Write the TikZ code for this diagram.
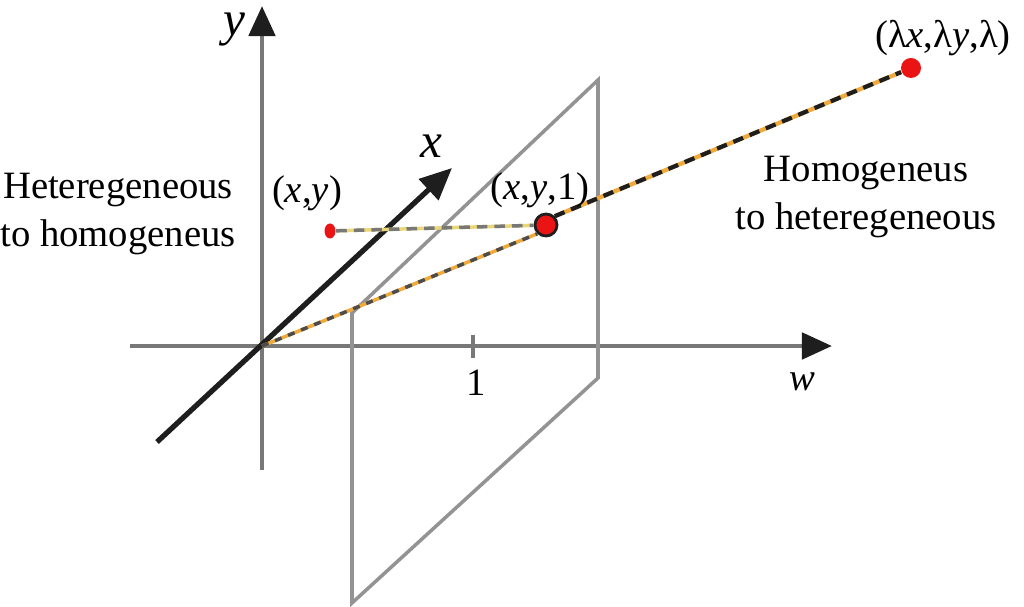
\documentclass[tikz,border=0pt]{standalone}
\usepackage{fontspec}
\setmainfont{Liberation Serif}
\usetikzlibrary{arrows.meta,positioning,calc,shapes.geometric}
\definecolor{axgray}{RGB}{120,120,120}
\definecolor{ink}{RGB}{30,30,30}
\definecolor{ptred}{RGB}{235,20,20}
\definecolor{rayor}{RGB}{240,170,60}
\definecolor{rayyel}{RGB}{235,215,120}
\tikzset{
  axisln/.style={draw=axgray,line width=1.4pt,-{Triangle[length=3mm,width=2.6mm,color=ink]}},
  xaxisln/.style={draw=ink,line width=1.5pt,-{Triangle[length=3.2mm,width=2.8mm]}},
  planeln/.style={draw=axgray!80,line width=1pt},
  lbl/.style={font=\fontsize{11}{13.7}\selectfont,inner sep=1pt,align=center},
  axlbl/.style={font=\fontsize{14}{16}\selectfont\itshape,inner sep=0pt},
  dot/.style={circle,fill=ptred,inner sep=0pt,minimum size=#1},
}

\begin{document}
\begin{tikzpicture}[x=0.01cm,y=-0.01cm]
  \useasboundingbox (0,0) rectangle (1024,607);
  % axes
  \coordinate (O) at (262,346);
  \coordinate (ybot) at (262,470);
  \coordinate (ytop) at (262,6);
  \coordinate (wbeg) at (130,346);
  \coordinate (wend) at (832,346);
  \coordinate (xbeg) at (157,442);
  \coordinate (xend) at (452,168);
  \draw[axisln] (ybot) -- (ytop);
  \draw[axisln] (wbeg) -- (wend);
  \coordinate (tk) at (473,346);
  \draw[axgray,line width=1pt] ($(tk)+(0,-11)$) -- ($(tk)+(0,12)$);
  \node[axlbl,font=\fontsize{11}{13}\selectfont\upshape] (one) at (476,383) {1};
  \node[axlbl,font=\fontsize{11}{13}\selectfont\itshape] (wl) at (802,382) {w};
  \node[axlbl] (yl) at (234,30) {y};
  \node[axlbl] (xl) at (431,146) {x};

  % plane w = 1
  \coordinate (p1) at (352,313);
  \coordinate (p2) at (598,80);
  \coordinate (p3) at (598,378);
  \coordinate (p4) at (352,603);
  \draw[planeln] (p1) -- (p2) -- (p3) -- (p4) -- cycle;

  \draw[xaxisln] (xbeg) -- (xend);

  % points
  \node[dot=2.2mm,draw=ink,line width=0.8pt] (pxy1) at (546,225) {};
  \node[ellipse,fill=ptred,inner sep=0pt,minimum width=1.1mm,minimum height=1.5mm] (pxy) at (330,231) {};
  \node[dot=2mm] (plam) at (911,68) {};

  % rays
  \draw[rayor,line width=1pt] (O) -- (pxy1.south west);
  \draw[black!70,line width=1pt,dash pattern=on 2pt off 2pt] (O) -- (pxy1.south west);
  \draw[rayor,line width=1.2pt] (pxy1.north east) -- (plam);
  \draw[ink,line width=1.2pt,dash pattern=on 3pt off 2pt] (pxy1.north east) -- (plam);
  \draw[rayyel,line width=1pt] (pxy) -- (pxy1);
  \draw[axgray,line width=1pt,dash pattern=on 3pt off 2pt] (pxy) -- (pxy1);

  % labels
  \node[lbl] (lxy) at (307,193) {(\textit{x},\textit{y})};
  \node[lbl] (lxy1) at (540,190) {(\textit{x},\textit{y},1)};
  \node[lbl] (llam) at (943,38) {(λ\textit{x},λ\textit{y},λ)};
  \node[lbl] (toh) at (118,214) {Heteregeneous\\to homogeneus};
  \node[lbl] (toe) at (866,197) {Homogeneus\\to heteregeneous};
\end{tikzpicture}
\end{document}
